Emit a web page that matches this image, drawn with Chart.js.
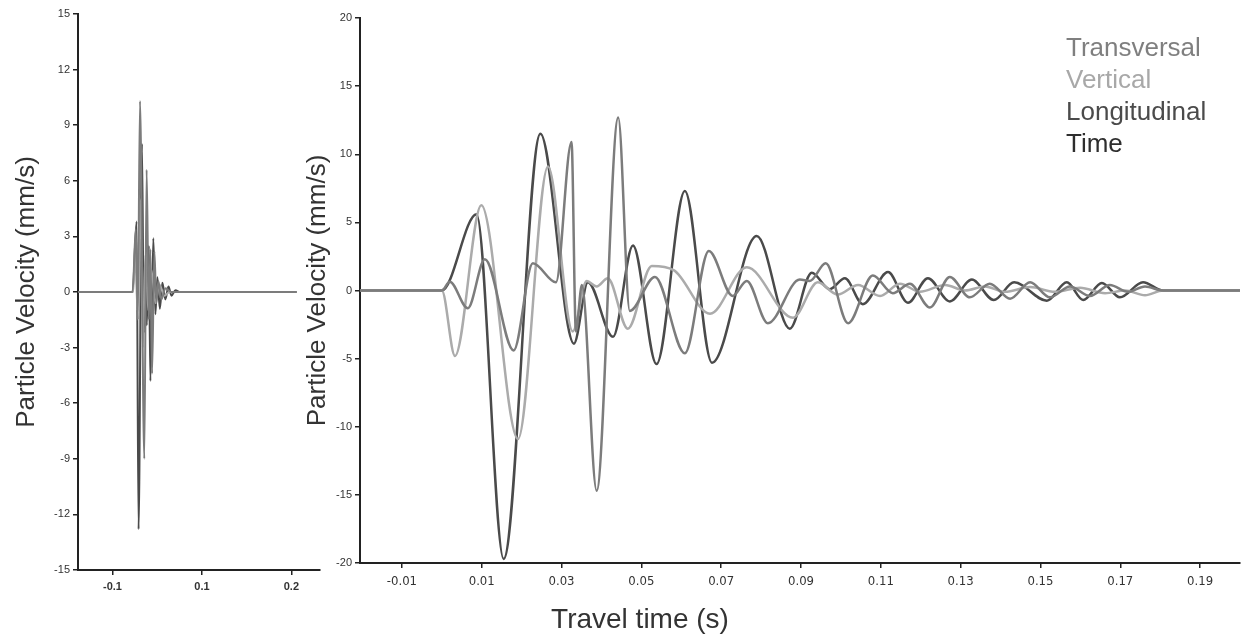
<!DOCTYPE html>
<html>
<head>
<meta charset="utf-8">
<script src="https://cdn.jsdelivr.net/npm/chart.js@4.4.1/dist/chart.umd.min.js"></script>
<style>
  html, body { margin: 0; padding: 0; background: #fff; }
  body { width: 1244px; height: 635px; position: relative; overflow: hidden; font-family: 'Liberation Sans', Arial, sans-serif; }
  canvas { position: absolute; top: 0; }
  #leftChart { left: 0; }
  #rightChart { left: 290px; }
  #xTitle { position: absolute; left: 520px; width: 240px; top: 603px; text-align: center; font-size: 28px; line-height: 32px; color: #333; }
  #legend { position: absolute; left: 1066px; top: 31px; font-size: 26px; line-height: 32px; }
</style>
</head>
<body>
<canvas id="leftChart" width="322" height="635"></canvas>
<canvas id="rightChart" width="954" height="635"></canvas>
<div id="xTitle"></div>
<div id="legend"></div>
<script>
// series names and colours
const seriesNames = ['Transversal', 'Vertical', 'Longitudinal'];
const seriesColors = ['#7c7c7c', '#ababab', '#4a4a4a'];
const legendLabels = ['Transversal', 'Vertical', 'Longitudinal', 'Time'];
const legendColors = ['#7f7f7f', '#a8a8a8', '#4b4b4b', '#2e2e2e'];
const yTitle = 'Particle Velocity (mm/s)';
const xTitle = 'Travel time (s)';

// right panel: travel time (s) / particle velocity (mm/s)
const transTime = [-0.0205, 0, 0.0020, 0.0065, 0.0108, 0.0180, 0.0228, 0.0286, 0.0325, 0.0336, 0.0351, 0.0388, 0.0442, 0.0471, 0.0534, 0.0609, 0.0669, 0.0729, 0.0764, 0.0817, 0.0897, 0.0922, 0.0962, 0.1018, 0.1080, 0.1130, 0.1173, 0.1223, 0.1273, 0.1323, 0.1373, 0.1424, 0.1474, 0.1524, 0.1574, 0.1624, 0.1674, 0.1719, 0.1762, 0.1807, 0.2];
const transVel  = [0, 0, 0.65, -1.3, 2.3, -4.4, 2.0, 0.6, 10.9, -3.0, 0.4, -14.7, 12.7, -1.5, 1.0, -4.6, 2.9, -0.4, 0.7, -2.4, 0.8, 0.7, 2.0, -2.4, 1.1, -0.2, 0.5, -1.25, 1.0, -0.5, 0.5, -0.6, 0.6, -0.5, 0.3, -0.4, 0.4, -0.1, 0.3, 0, 0];

const vertTime = [-0.0205, 0, 0.0033, 0.0099, 0.0191, 0.0266, 0.0328, 0.0363, 0.0388, 0.0416, 0.0466, 0.0526, 0.0581, 0.0672, 0.0764, 0.0880, 0.0942, 0.0992, 0.1043, 0.1098, 0.1148, 0.1198, 0.1261, 0.1311, 0.1361, 0.1411, 0.1474, 0.1536, 0.1599, 0.1662, 0.1712, 0.1762, 0.1807, 0.2];
const vertVel  = [0, 0, -4.8, 6.25, -10.9, 9.1, -3.0, 0.7, 0.3, 0.9, -2.8, 1.8, 1.5, -1.7, 1.7, -2.0, 0.6, -0.3, 0.4, -0.4, 0.5, -0.1, 0.4, 0.0, 0.3, -0.1, 0.25, -0.1, 0.2, -0.2, 0.0, -0.35, 0, 0];

const longTime = [-0.0205, 0, 0.0087, 0.0155, 0.0247, 0.0331, 0.0366, 0.0429, 0.0479, 0.0538, 0.0609, 0.0677, 0.0789, 0.0872, 0.0927, 0.0972, 0.1010, 0.1055, 0.1118, 0.1168, 0.1218, 0.1273, 0.1328, 0.1383, 0.1434, 0.1516, 0.1566, 0.1607, 0.1654, 0.1699, 0.1757, 0.1807, 0.2];
const longVel  = [0, 0, 5.6, -19.7, 11.5, -3.9, 0.6, -3.4, 3.3, -5.4, 7.3, -5.3, 4.0, -2.8, 1.3, 0.1, 0.9, -1.0, 1.35, -0.9, 0.9, -0.8, 0.8, -0.7, 0.6, -0.75, 0.6, -0.7, 0.55, -0.5, 0.6, 0, 0];

const rightXTicks = [-0.01, 0.01, 0.03, 0.05, 0.07, 0.09, 0.11, 0.13, 0.15, 0.17, 0.19];
const rightXTickLabels = ['-0.01', '0.01', '0.03', '0.05', '0.07', '0.09', '0.11', '0.13', '0.15', '0.17', '0.19'];
const rightYTicks = [-20, -15, -10, -5, 0, 5, 10, 15, 20];

// left panel: compressed overview
const leftTransTime = [-0.1385, -0.0775, -0.0739, -0.0717, -0.0692, -0.0644, -0.0618, -0.0593, -0.0576, -0.0557, -0.0531, -0.0509, -0.0487, -0.0453, -0.0408, -0.0340, 0.106];
const leftTransVel  = [0, 0, 3.4, -1.5, 10.3, -9.0, 6.6, -1.5, 2.3, -4.4, 2.2, -0.6, 0.6, -0.4, 0.2, 0, 0];

const leftVertTime = [-0.1385, -0.0767, -0.0745, -0.0722, -0.0689, -0.0661, -0.0633, -0.0599, -0.0565, -0.0520, -0.0475, -0.0419, -0.0363, 0.106];
const leftVertVel  = [0, 0, 2.5, -1.0, 5.0, -3.0, 2.0, -1.0, 1.2, -0.6, 0.4, -0.2, 0, 0];

const leftLongTime = [-0.1385, -0.0775, -0.0730, -0.0708, -0.0670, -0.0649, -0.0633, -0.0616, -0.0593, -0.0576, -0.0543, -0.0520, -0.0498, -0.0470, -0.0442, -0.0408, -0.0374, -0.0340, -0.0295, -0.0251, 0.106];
const leftLongVel  = [0, 0, 3.8, -12.8, 8.0, -2.2, 0.5, -1.8, 2.5, -4.8, 2.9, -1.2, 0.8, -0.9, 0.5, -0.4, 0.3, -0.2, 0.1, 0, 0];

const leftXTicks = [-0.1, 0, 0.1];
const leftXTickLabels = ['-0.1', '0.1', '0.2'];
const leftYTicks = [-15, -12, -9, -6, -3, 0, 3, 6, 9, 12, 15];

const fontFamily = "'Liberation Sans', Arial, sans-serif";
const narrowFamily = "'Liberation Sans Narrow', 'DejaVu Sans Condensed', 'Liberation Sans', Arial, sans-serif";

function toPoints(xs, ys) {
    return xs.map((x, i) => ({ x: x, y: ys[i] }));
}

function makeDatasets(groups, width) {
    return groups.map((g, i) => ({
        label: seriesNames[i],
        data: toPoints(g[0], g[1]),
        borderColor: seriesColors[i],
        borderWidth: width,
        pointRadius: 0,
        fill: false,
        cubicInterpolationMode: 'monotone'
    }));
}

// shared axis look: thick black line, short outward ticks, no grid
function axisBase() {
    return {
        type: 'linear',
        border: { display: true, color: '#222', width: 2 },
        grid: { display: true, drawOnChartArea: false, drawTicks: true, tickLength: 5, color: '#222', tickColor: '#222', lineWidth: 1.5 }
    };
}

// left chart
const leftX = Object.assign(axisBase(), {
    min: -0.1385,
    max: 0.132,
    afterBuildTicks: s => { s.ticks = leftXTicks.map(v => ({ value: v })); },
    afterFit: s => { s.height = 65; },
    ticks: {
        color: '#333', padding: 5, maxRotation: 0, autoSkip: false,
        font: { family: fontFamily, size: 11, weight: 'bold' },
        callback: (v, i) => leftXTickLabels[i]
    }
});
const leftY = Object.assign(axisBase(), {
    min: -15,
    max: 15,
    afterBuildTicks: s => { s.ticks = leftYTicks.map(v => ({ value: v })); },
    afterFit: s => { s.width = 78; },
    ticks: { color: '#333', padding: 3, font: { family: fontFamily, size: 11 } },
    title: { display: true, text: yTitle, color: '#333', font: { family: fontFamily, size: 26 }, padding: { top: 11 } }
});

new Chart(document.getElementById('leftChart'), {
    type: 'line',
    data: {
        datasets: makeDatasets([[leftTransTime, leftTransVel], [leftVertTime, leftVertVel], [leftLongTime, leftLongVel]], 2)
    },
    options: {
        responsive: false,
        animation: false,
        layout: { padding: { top: 14, right: 2, left: 0, bottom: 0 } },
        plugins: { legend: { display: false }, tooltip: { enabled: false } },
        scales: { x: leftX, y: leftY }
    }
});

// right chart
const rightX = Object.assign(axisBase(), {
    min: -0.0205,
    max: 0.2,
    afterBuildTicks: s => { s.ticks = rightXTicks.map(v => ({ value: v })); },
    afterFit: s => { s.height = 72; },
    ticks: {
        color: '#333', padding: 6, maxRotation: 0, autoSkip: false,
        font: { family: narrowFamily, size: 13 },
        callback: (v, i) => rightXTickLabels[i]
    }
});
const rightY = Object.assign(axisBase(), {
    min: -20,
    max: 20,
    afterBuildTicks: s => { s.ticks = rightYTicks.map(v => ({ value: v })); },
    afterFit: s => { s.width = 70; },
    ticks: { color: '#333', padding: 3, font: { family: fontFamily, size: 11 } },
    title: { display: true, text: yTitle, color: '#333', font: { family: fontFamily, size: 26 }, padding: { top: 12 } }
});

new Chart(document.getElementById('rightChart'), {
    type: 'line',
    data: {
        datasets: makeDatasets([[transTime, transVel], [vertTime, vertVel], [longTime, longVel]], 2.5)
    },
    options: {
        responsive: false,
        animation: false,
        layout: { padding: { top: 18, right: 4, left: 0, bottom: 0 } },
        plugins: { legend: { display: false }, tooltip: { enabled: false } },
        scales: { x: rightX, y: rightY }
    }
});

// x title and text legend
document.getElementById('xTitle').textContent = xTitle;
const legendEl = document.getElementById('legend');
legendLabels.forEach((name, i) => {
    const row = document.createElement('div');
    row.textContent = name;
    row.style.color = legendColors[i];
    legendEl.appendChild(row);
});
</script>
</body>
</html>
